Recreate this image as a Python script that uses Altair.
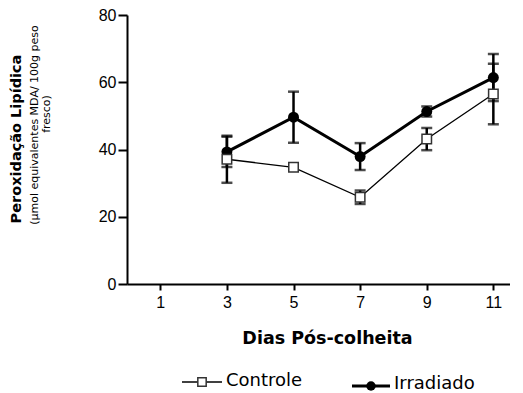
import altair as alt
import pandas as pd

days = [3, 5, 7, 9, 11]
controle = [37.1, 34.7, 25.8, 43.1, 56.5]
controle_err = [7.0, 0.6, 2.0, 3.3, 9.0]
irradiado = [39.3, 49.6, 37.9, 51.3, 61.4]
irradiado_err = [4.5, 7.6, 4.0, 1.5, 7.0]
x_ticks = [1, 3, 5, 7, 9, 11]
y_ticks = [0, 20, 40, 60, 80]

FONT = "Liberation Sans"
WIDE = "DejaVu Sans"

ctrl = pd.DataFrame({"dia": days, "v": controle, "lo": [a - b for a, b in zip(controle, controle_err)],
                     "hi": [a + b for a, b in zip(controle, controle_err)]})
irr = pd.DataFrame({"dia": days, "v": irradiado, "lo": [a - b for a, b in zip(irradiado, irradiado_err)],
                    "hi": [a + b for a, b in zip(irradiado, irradiado_err)]})

xs = alt.Scale(domain=[0, 11.5], nice=False, zero=False)
ys = alt.Scale(domain=[0, 80], nice=False)

X = alt.X("dia:Q", scale=xs, axis=alt.Axis(
    values=x_ticks, title="Dias Pós-colheita", grid=False, domainColor="black", domainWidth=2,
    tickColor="black", tickWidth=2, tickSize=6, labelFont=FONT, labelFontSize=16, labelColor="black",
    labelPadding=4, titleFont=WIDE, titleFontSize=17.5, titleFontWeight="bold", titleColor="black",
    titleX=200, titleY=54, titleBaseline="middle", labelFlush=False))
Y = alt.Y("v:Q", scale=ys, axis=alt.Axis(
    values=y_ticks, title=None, grid=False, domainColor="black", domainWidth=2,
    tickColor="black", tickWidth=2, tickSize=9, labelFont=FONT, labelFontSize=16, labelColor="black",
    labelPadding=2, labelFlush=False))

def series(df, lw):
    base = alt.Chart(df)
    line = base.mark_line(color="black", strokeWidth=lw).encode(x=X, y=Y)
    bars = base.mark_rule(color="black", strokeWidth=2.5).encode(
        x=alt.X("dia:Q", scale=xs), y=alt.Y("lo:Q", scale=ys), y2="hi:Q")
    cap_lo = base.mark_tick(color="black", thickness=2.5, size=11, orient="horizontal").encode(
        x=alt.X("dia:Q", scale=xs), y=alt.Y("lo:Q", scale=ys))
    cap_hi = base.mark_tick(color="black", thickness=2.5, size=11, orient="horizontal").encode(
        x=alt.X("dia:Q", scale=xs), y=alt.Y("hi:Q", scale=ys))
    return line, bars, cap_lo, cap_hi

l_i, b_i, cl_i, ch_i = series(irr, 3)
l_c, b_c, cl_c, ch_c = series(ctrl, 1.3)

pts_i = alt.Chart(irr).mark_point(shape="circle", filled=True, color="black", size=120, opacity=1).encode(x=X, y=Y)
pts_c = alt.Chart(ctrl).mark_point(shape="square", filled=True, fill="white", stroke="#333333",
                                    strokeWidth=1.5, size=90, opacity=1).encode(x=X, y=Y)

# y-axis title (three lines)
t1 = alt.Chart(pd.DataFrame({"t": ["Peroxidação Lipídica"]})).mark_text(
    angle=270, font=WIDE, fontSize=14.5, fontWeight="bold", color="black", baseline="middle").encode(
    text="t:N", x=alt.value(-110), y=alt.value(124))
t2 = alt.Chart(pd.DataFrame({"t": ["(µmol equivalentes MDA/ 100g peso"]})).mark_text(
    angle=270, font=WIDE, fontSize=11, color="black", baseline="middle").encode(
    text="t:N", x=alt.value(-92.5), y=alt.value(110))
t3 = alt.Chart(pd.DataFrame({"t": ["fresco)"]})).mark_text(
    angle=270, font=WIDE, fontSize=11, color="black", baseline="middle").encode(
    text="t:N", x=alt.value(-80), y=alt.value(99))

# legend
lg_c_line = alt.Chart(pd.DataFrame({"a": [0]})).mark_rule(color="black", strokeWidth=1.5).encode(
    x=alt.value(55), x2=alt.value(95), y=alt.value(367))
lg_c_pt = alt.Chart(pd.DataFrame({"a": [0]})).mark_point(shape="square", filled=True, fill="white",
    stroke="#333333", strokeWidth=1.5, size=70, opacity=1).encode(x=alt.value(75), y=alt.value(367))
lg_c_txt = alt.Chart(pd.DataFrame({"t": ["Controle"]})).mark_text(
    font=WIDE, fontSize=18, color="black", align="left", baseline="middle").encode(
    text="t:N", x=alt.value(99), y=alt.value(366))
lg_i_line = alt.Chart(pd.DataFrame({"a": [0]})).mark_rule(color="black", strokeWidth=3).encode(
    x=alt.value(225), x2=alt.value(263), y=alt.value(371))
lg_i_pt = alt.Chart(pd.DataFrame({"a": [0]})).mark_point(shape="circle", filled=True, color="black",
    size=90, opacity=1).encode(x=alt.value(244), y=alt.value(371))
lg_i_txt = alt.Chart(pd.DataFrame({"t": ["Irradiado"]})).mark_text(
    font=WIDE, fontSize=18, color="black", align="left", baseline="middle").encode(
    text="t:N", x=alt.value(267), y=alt.value(369))

chart = alt.layer(
    l_c, l_i, b_c, cl_c, ch_c, b_i, cl_i, ch_i, pts_i, pts_c,
    t1, t2, t3, lg_c_line, lg_c_pt, lg_c_txt, lg_i_line, lg_i_pt, lg_i_txt
).properties(
    width=383, height=269, autosize=alt.AutoSizeParams(type="none"),
    padding={"left": 119, "top": 7, "right": 0, "bottom": 112}, background="white"
).configure_view(stroke=None)

chart.save("out.html", embed_options={"renderer": "svg", "actions": False})
